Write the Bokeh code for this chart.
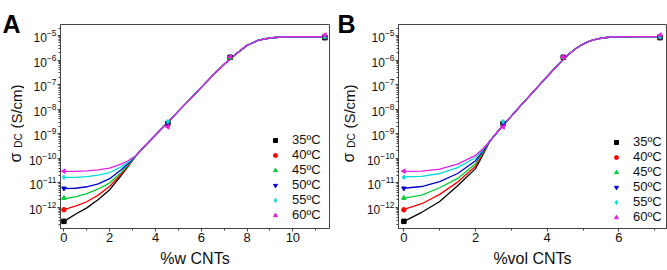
import math
from bokeh.plotting import figure
from bokeh.layouts import row
from bokeh.models import (FixedTicker, LogTickFormatter, SingleIntervalTicker, Range1d,
                          Legend, LegendItem, Label)
from bokeh.embed import file_html
from bokeh.resources import INLINE

# ---------------- data ----------------
temps = ["35ºC", "40ºC", "45ºC", "50ºC", "55ºC", "60ºC"]
colors = ["#000000", "#FF0000", "#00CC33", "#0000CC", "#00DDDD", "#E020E0"]
markers = ["square", "circle", "triangle", "inverted_triangle", "diamond", "triangle"]
angles = [0, 0, 0, 0, 0, math.pi / 2]

# measured points (same samples, two concentration scales)
x_wt = [0, 4.54, 7.26, 11.4]
x_vol = [0, 2.77, 4.45, 7.15]
sigma_35 = [2.7e-13, 2.6e-9, 1.30e-6, 8.2e-6]
sigma_40 = [8.0e-13, 2.6e-9, 1.30e-6, 8.5e-6]
sigma_45 = [2.4e-12, 2.7e-9, 1.30e-6, 8.8e-6]
sigma_50 = [6.0e-12, 2.6e-9, 1.30e-6, 8.6e-6]
sigma_55 = [1.7e-11, 3.1e-9, 1.30e-6, 9.0e-6]
sigma_60 = [3.0e-11, 1.9e-9, 1.35e-6, 1.05e-5]
sigmas = [sigma_35, sigma_40, sigma_45, sigma_50, sigma_55, sigma_60]

# fitted curves (log10 sigma)
fitA_x_low = [0, 0.5, 1.0, 1.5, 2.0, 2.5, 2.8, 3.1]
fitA_low_35 = [-12.57, -12.28, -12.02, -11.68, -11.28, -10.70, -10.34, -9.95]
fitA_low_40 = [-12.09, -11.95, -11.77, -11.50, -11.14, -10.64, -10.31, -9.94]
fitA_low_45 = [-11.65, -11.57, -11.44, -11.25, -11.00, -10.58, -10.28, -9.94]
fitA_low_50 = [-11.23, -11.22, -11.16, -11.04, -10.83, -10.47, -10.22, -9.94]
fitA_low_55 = [-10.78, -10.78, -10.75, -10.69, -10.58, -10.35, -10.16, -9.93]
fitA_low_60 = [-10.53, -10.53, -10.51, -10.47, -10.40, -10.24, -10.10, -9.92]
fitA_x_high = [3.5, 4.0, 4.5, 5.0, 5.5, 6.0, 6.5, 7.0, 7.5, 8.0, 8.5, 9.0, 9.5, 10.0, 10.5, 11.0, 11.4]
fitA_high = [-9.53, -9.05, -8.57, -8.08, -7.60, -7.11, -6.63, -6.17, -5.76, -5.40, -5.19,
             -5.10, -5.06, -5.05, -5.05, -5.05, -5.05]

fitB_x_low = [0, 0.5, 1.0, 1.5, 2.0, 2.2]
fitB_low_35 = [-12.57, -12.20, -11.76, -11.12, -10.42, -9.87]
fitB_low_40 = [-12.08, -11.85, -11.47, -10.97, -10.32, -9.82]
fitB_low_45 = [-11.62, -11.50, -11.20, -10.82, -10.22, -9.77]
fitB_low_50 = [-11.22, -11.15, -10.95, -10.62, -10.10, -9.72]
fitB_low_55 = [-10.76, -10.74, -10.62, -10.38, -9.97, -9.66]
fitB_low_60 = [-10.53, -10.52, -10.44, -10.24, -9.88, -9.62]
fitB_x_high = [2.4, 2.6, 2.8, 3.0, 3.2, 3.4, 3.6, 3.8, 4.0, 4.2, 4.4, 4.6, 4.8, 5.0, 5.2,
               5.4, 5.6, 5.8, 6.0, 6.5, 7.15]
fitB_high = [-9.30, -8.95, -8.61, -8.28, -7.95, -7.63, -7.31, -6.99, -6.67, -6.35, -6.04,
             -5.76, -5.53, -5.35, -5.22, -5.14, -5.09, -5.06, -5.05, -5.04, -5.04]

fitA_low = [fitA_low_35, fitA_low_40, fitA_low_45, fitA_low_50, fitA_low_55, fitA_low_60]
fitB_low = [fitB_low_35, fitB_low_40, fitB_low_45, fitB_low_50, fitB_low_55, fitB_low_60]

FONT = "Liberation Sans"
AXC = "#444444"
TXT = "#111111"


def label_strip(letter, width, letter_x):
    """Narrow strip holding the panel letter and the rotated y-axis title."""
    s = figure(width=width, height=270, x_range=Range1d(0, 1), y_range=Range1d(0, 1),
               x_axis_location=None, y_axis_location=None, output_backend="svg",
               toolbar_location=None, min_border=0, outline_line_color=None,
               frame_align=False)
    s.title.visible = False
    s.grid.visible = False
    s.add_layout(Label(x=letter_x, y=247, x_units="screen", y_units="screen", text=letter,
                       text_align="left", text_baseline="alphabetic",
                       text_font=FONT, text_font_size="25px", text_font_style="bold",
                       text_color="#000000"))
    s.add_layout(Label(x=15, y=113, x_units="screen", y_units="screen", text="σ",
                       angle=math.pi / 2, text_align="center", text_baseline="alphabetic",
                       text_font=FONT, text_font_size="16px", text_color=TXT))
    s.add_layout(Label(x=18, y=130, x_units="screen", y_units="screen", text="DC",
                       angle=math.pi / 2, text_align="center", text_baseline="alphabetic",
                       text_font=FONT, text_font_size="10px", text_color=TXT))
    s.add_layout(Label(x=15.5, y=164, x_units="screen", y_units="screen", text="(S/cm)",
                       angle=math.pi / 2, text_align="center", text_baseline="alphabetic",
                       text_font=FONT, text_font_size="15px", text_color=TXT))
    return s


def make_panel(xlabel, xs, x_end, fx_low, f_low, fx_high, f_high, width, bl, br, legend_loc):
    p = figure(width=width, height=270, y_axis_type="log",
               x_range=Range1d(-0.15, x_end), y_range=Range1d(10 ** -12.86, 10 ** -4.55),
               output_backend="svg", toolbar_location=None,
               min_border_left=bl, min_border_right=br, min_border_top=24, min_border_bottom=42)
    p.grid.visible = False
    p.outline_line_color = AXC
    p.outline_line_width = 1

    p.yaxis.ticker = FixedTicker(ticks=[10.0 ** e for e in range(-12, -4)],
                                 minor_ticks=[m * 10.0 ** e for e in range(-13, -4) for m in range(2, 10)])
    p.yaxis.formatter = LogTickFormatter()
    p.xaxis.ticker = SingleIntervalTicker(interval=2, num_minor_ticks=2)
    for ax in (p.xaxis[0], p.yaxis[0]):
        ax.axis_line_color = AXC
        ax.major_tick_line_color = AXC
        ax.minor_tick_line_color = AXC
        ax.major_tick_in = 0
        ax.major_tick_out = 3
        ax.minor_tick_in = 0
        ax.minor_tick_out = 2
        ax.major_label_text_font = FONT
        ax.major_label_text_color = TXT
    p.xaxis.major_label_text_font_size = "13px"
    p.yaxis.major_label_text_font_size = "12px"
    p.xaxis.major_label_standoff = 1
    p.yaxis.major_label_standoff = 1
    p.xaxis.axis_label = xlabel
    p.xaxis.axis_label_text_font = FONT
    p.xaxis.axis_label_text_font_size = "16px"
    p.xaxis.axis_label_text_font_style = "normal"
    p.xaxis.axis_label_text_color = TXT
    p.xaxis.axis_label_standoff = 5

    for i in range(6):
        xx = fx_low + fx_high
        yy = [10 ** v for v in f_low[i] + f_high]
        p.line(xx, yy, line_color=colors[i], line_width=1.3)

    rends = []
    for i in range(6):
        r = p.scatter(xs, sigmas[i], marker=markers[i], angle=angles[i],
                      size=4.5, fill_color=colors[i], line_color=colors[i])
        rends.append(r)

    legend = Legend(items=[LegendItem(label=temps[i], renderers=[rends[i]]) for i in range(6)],
                    location=legend_loc, padding=0, margin=0, spacing=0,
                    glyph_width=10, glyph_height=14, label_height=14, label_standoff=12,
                    label_text_font=FONT, label_text_font_size="13px",
                    label_text_color=TXT,
                    border_line_alpha=0, background_fill_alpha=0)
    p.add_layout(legend)
    return p


labA = label_strip("A", 24, 2)
pA = make_panel("%w CNTs", x_wt, 11.6, fitA_x_low, fitA_low, fitA_x_high, fitA_high,
                309, 36, 4, (210, 6))
labB = label_strip("B", 30, 4)
pB = make_panel("%vol CNTs", x_vol, 7.33, fitB_x_low, fitB_low, fitB_x_high, fitB_high,
                304, 35, 1, (213, 4))

layout = row(labA, pA, labB, pB)
open("out.html", "w").write(file_html(layout, INLINE))
